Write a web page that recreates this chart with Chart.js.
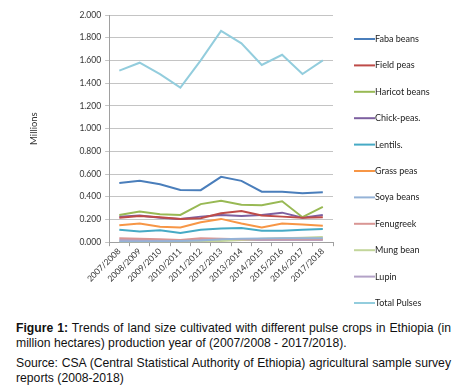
<!DOCTYPE html>
<html lang="en">
<head>
    <meta charset="UTF-8">
    <title>Pulse crops land size</title>
    <script src="https://cdn.jsdelivr.net/npm/chart.js"></script>
    <style>
        body { margin: 0; background: #fff; width: 468px; height: 389px; overflow: hidden; }
        #wrap { position: relative; width: 468px; height: 316px; }
        .caption { font-family: "Liberation Sans", Arial, sans-serif; font-size: 12.2px; color: #111; margin: 0 17px 0 16px; line-height: 15px; text-align: justify; }
        .caption b { font-weight: bold; }
    </style>
</head>
<body>
    <div id="wrap"><canvas id="pulseChart" width="468" height="316"></canvas></div>
    <p class="caption" style="margin-top:5px"><b>Figure 1:</b> Trends of land size cultivated with different pulse crops in Ethiopia (in million hectares) production year of (2007/2008 - 2017/2018).</p>
    <p class="caption" style="margin-top:5px">Source: CSA (Central Statistical Authority of Ethiopia) agricultural sample survey reports (2008-2018)</p>

    <script>
        const years = ['2007/2008', '2008/2009', '2009/2010', '2010/2011', '2011/2012', '2012/2013',
            '2013/2014', '2014/2015', '2015/2016', '2016/2017', '2017/2018'];

        const fabaBeans    = [0.520, 0.540, 0.510, 0.460, 0.458, 0.575, 0.540, 0.445, 0.445, 0.430, 0.440];
        const fieldPeas    = [0.215, 0.230, 0.220, 0.205, 0.210, 0.255, 0.275, 0.235, 0.225, 0.215, 0.220];
        const haricotBeans = [0.240, 0.270, 0.245, 0.240, 0.335, 0.365, 0.330, 0.325, 0.360, 0.220, 0.310];
        const chickPeas    = [0.225, 0.235, 0.215, 0.205, 0.225, 0.240, 0.230, 0.240, 0.260, 0.215, 0.240];
        const lentils      = [0.110, 0.095, 0.105, 0.080, 0.110, 0.120, 0.125, 0.100, 0.100, 0.110, 0.115];
        const grassPeas    = [0.150, 0.165, 0.135, 0.130, 0.175, 0.205, 0.165, 0.130, 0.165, 0.155, 0.145];
        const soyaBeans    = [0.005, 0.006, 0.008, 0.010, 0.015, 0.025, 0.030, 0.033, 0.035, 0.035, 0.035];
        const fenugreek    = [0.035, 0.030, 0.025, 0.020, 0.035, 0.030, 0.025, 0.025, 0.025, 0.025, 0.025];
        const mungBean     = [0.002, 0.002, 0.002, 0.002, 0.005, 0.010, 0.020, 0.030, 0.035, 0.040, 0.045];
        const lupin        = [0.020, 0.020, 0.020, 0.015, 0.020, 0.020, 0.020, 0.020, 0.020, 0.020, 0.020];
        const totalPulses  = [1.510, 1.580, 1.480, 1.360, 1.600, 1.860, 1.750, 1.560, 1.650, 1.480, 1.600];

        const seriesNames = ['Faba beans', 'Field peas', 'Haricot beans', 'Chick-peas.', 'Lentils.', 'Grass peas',
            'Soya beans', 'Fenugreek', 'Mung bean', 'Lupin', 'Total Pulses'];
        const seriesData = [fabaBeans, fieldPeas, haricotBeans, chickPeas, lentils, grassPeas,
            soyaBeans, fenugreek, mungBean, lupin, totalPulses];
        const seriesColors = ['#4a7ebb', '#be4b48', '#98b954', '#7d60a0', '#46aac5', '#f79646',
            '#95b3d7', '#d99694', '#c3d69b', '#b3a2c7', '#93cddd'];

        const chartFont = 'Lato, "Liberation Sans", sans-serif';

        // legend drawn by hand, Excel style: short line then label
        const sideLegend = {
            id: 'sideLegend',
            afterDraw(chart) {
                const ctx = chart.ctx;
                ctx.save();
                ctx.font = '9px ' + chartFont;
                ctx.textBaseline = 'middle';
                chart.data.datasets.forEach((ds, i) => {
                    const y = 39 + i * 26.4;
                    ctx.strokeStyle = ds.borderColor;
                    ctx.lineWidth = 2;
                    ctx.beginPath();
                    ctx.moveTo(354, y);
                    ctx.lineTo(375, y);
                    ctx.stroke();
                    ctx.fillStyle = '#222';
                    ctx.fillText(ds.label, 375, y);
                });
                ctx.restore();
            }
        };

        new Chart(document.getElementById('pulseChart'), {
            type: 'line',
            data: {
                labels: years,
                datasets: seriesNames.map((name, i) => ({
                    label: name,
                    data: seriesData[i],
                    borderColor: seriesColors[i],
                    backgroundColor: seriesColors[i],
                    borderWidth: 2,
                    pointRadius: 0,
                    tension: 0
                }))
            },
            options: {
                responsive: false,
                animation: false,
                layout: { padding: { top: 15, right: 135, left: 24, bottom: 32 } },
                plugins: {
                    legend: { display: false },
                    tooltip: { enabled: false }
                },
                scales: {
                    x: {
                        offset: true,
                        grid: { display: true, drawOnChartArea: false, offset: true, color: '#a0a0a0', tickLength: 4 },
                        border: { color: '#a0a0a0' },
                        ticks: {
                            minRotation: 45, maxRotation: 45, autoSkip: false,
                            color: '#333', padding: 0,
                            font: { family: chartFont, size: 8.5 }
                        }
                    },
                    y: {
                        min: 0, max: 2,
                        grid: { color: '#c4c4c4', tickLength: 4 },
                        border: { color: '#a0a0a0' },
                        ticks: {
                            stepSize: 0.2, color: '#333', padding: 4,
                            font: { family: chartFont, size: 8.5 },
                            callback: v => v.toFixed(3)
                        },
                        title: { display: true, text: 'Millions', color: '#333', padding: { bottom: 36 }, font: { family: chartFont, size: 9.5 } }
                    }
                }
            },
            plugins: [sideLegend]
        });
    </script>
</body>
</html>
